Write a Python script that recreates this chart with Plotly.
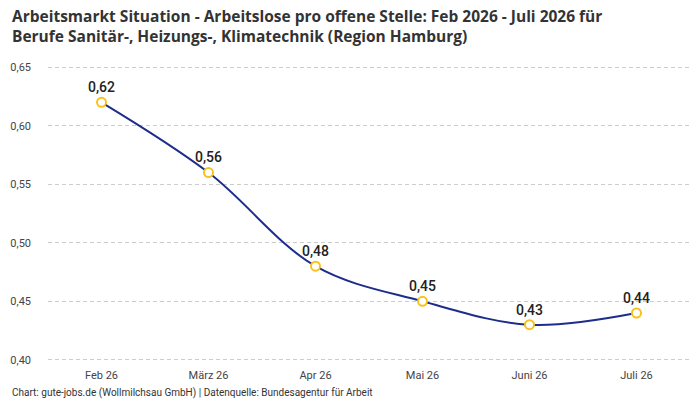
import plotly.graph_objects as go

monate = ["Feb 26", "März 26", "Apr 26", "Mai 26", "Juni 26", "Juli 26"]
werte = [0.62, 0.56, 0.48, 0.45, 0.43, 0.44]
y_ticks = [0.40, 0.45, 0.50, 0.55, 0.60, 0.65]
y_tick_labels = ["0,40", "0,45", "0,50", "0,55", "0,60", "0,65"]

schrift = "Roboto, Noto Sans, sans-serif"

fig = go.Figure()
fig.add_trace(go.Scatter(
    x=monate,
    y=werte,
    mode="lines+markers+text",
    line=dict(color="#1c2d8c", width=2, shape="spline", smoothing=1.0),
    marker=dict(size=9, color="white", line=dict(color="#f8c21c", width=2)),
    text=[f"{v:.2f}".replace(".", ",") for v in werte],
    textposition="top center",
    textfont=dict(family=schrift, size=14, color="#222", weight=500),
    cliponaxis=False,
    hoverinfo="skip",
))

fig.update_layout(
    width=700,
    height=400,
    margin=dict(l=48, r=10, t=66, b=39),
    paper_bgcolor="white",
    plot_bgcolor="white",
    showlegend=False,
    font=dict(family=schrift, size=11, color="#444"),
)
fig.update_xaxes(
    range=[-0.5, 5.5],
    showgrid=False,
    showline=False,
    zeroline=False,
    ticks="",
    ticklabelstandoff=6,
    tickfont=dict(size=11, color="#444"),
)
# etwas Luft am Rand, damit die Gitterlinien bei 0,40 und 0,65 sichtbar bleiben
fig.update_yaxes(
    range=[0.399, 0.651],
    tickvals=y_ticks,
    ticktext=y_tick_labels,
    showgrid=True,
    gridcolor="#cccccc",
    griddash="4px,3px",
    gridwidth=1,
    zeroline=False,
    showline=False,
    ticks="",
    ticklabelstandoff=16,
    tickfont=dict(size=11, color="#444"),
)

# Titel als Annotation, damit er sauber oben links sitzt
fig.add_annotation(
    text="Arbeitsmarkt Situation - Arbeitslose pro offene Stelle: Feb 2026 - Juli 2026 für<br>Berufe Sanitär-, Heizungs-, Klimatechnik (Region Hamburg)",
    xref="paper", yref="paper", x=-0.059, y=1.215,
    xanchor="left", yanchor="top", align="left", showarrow=False,
    font=dict(family="Open Sans, sans-serif", size=15.5, color="#333", weight="bold"),
)
fig.add_annotation(
    text="Chart: gute-jobs.de (Wollmilchsau GmbH) | Datenquelle: Bundesagentur für Arbeit",
    xref="paper", yref="paper", x=-0.059, y=-0.108,
    xanchor="left", yanchor="middle", showarrow=False,
    font=dict(family=schrift, size=10, color="#333"),
)

# Seitenrand des Browsers entfernen, damit der Chart genau ins Fenster passt
fig.write_html("out.html", config={"displayModeBar": False},
               post_script="document.body.style.margin='0';")
